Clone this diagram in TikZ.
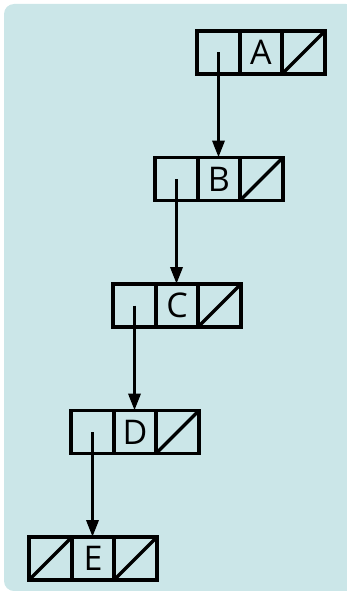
\documentclass[tikz,border=0pt]{standalone}
\usepackage{fontspec}
\setmainfont{Open Sans}
\usetikzlibrary{arrows.meta}
\definecolor{panel}{HTML}{CBE6E8}
\tikzset{
  cell/.style={draw=black, line width=3.4pt, minimum width=43pt, minimum height=43pt,
    inner sep=0pt, outer sep=0pt, font=\fontsize{34}{34}\selectfont},
  link/.style={line width=3.4pt, -{Triangle[length=17pt,width=12pt]}},
  nil/.style={line width=3.4pt, line cap=butt},
}
\begin{document}
\begin{tikzpicture}[x=1pt,y=-1pt]
  \useasboundingbox (0,0) rectangle (346,591);
  \fill[panel, rounded corners=10pt] (4,4) rectangle (356,591);
  % list cells: pointer | value | next
  \foreach \name/\lx/\ty in {A/197/31, B/155/157.5, C/113/284, D/71/410.5, E/29/537}{
    \node[cell] (p\name) at (\lx+21.5,\ty+21.5) {};
    \node[cell] (\name) at (\lx+64,\ty+21.5) {\name};
    \node[cell] (n\name) at (\lx+106.5,\ty+21.5) {};
    \draw[nil] (n\name.south west) -- (n\name.north east);
  }
  \draw[nil] (pE.south west) -- (pE.north east);
  % links
  \draw[link] (pA.center) -- (pA.center |- B.north);
  \draw[link] (pB.center) -- (pB.center |- C.north);
  \draw[link] (pC.center) -- (pC.center |- D.north);
  \draw[link] (pD.center) -- (pD.center |- E.north);
\end{tikzpicture}
\end{document}
